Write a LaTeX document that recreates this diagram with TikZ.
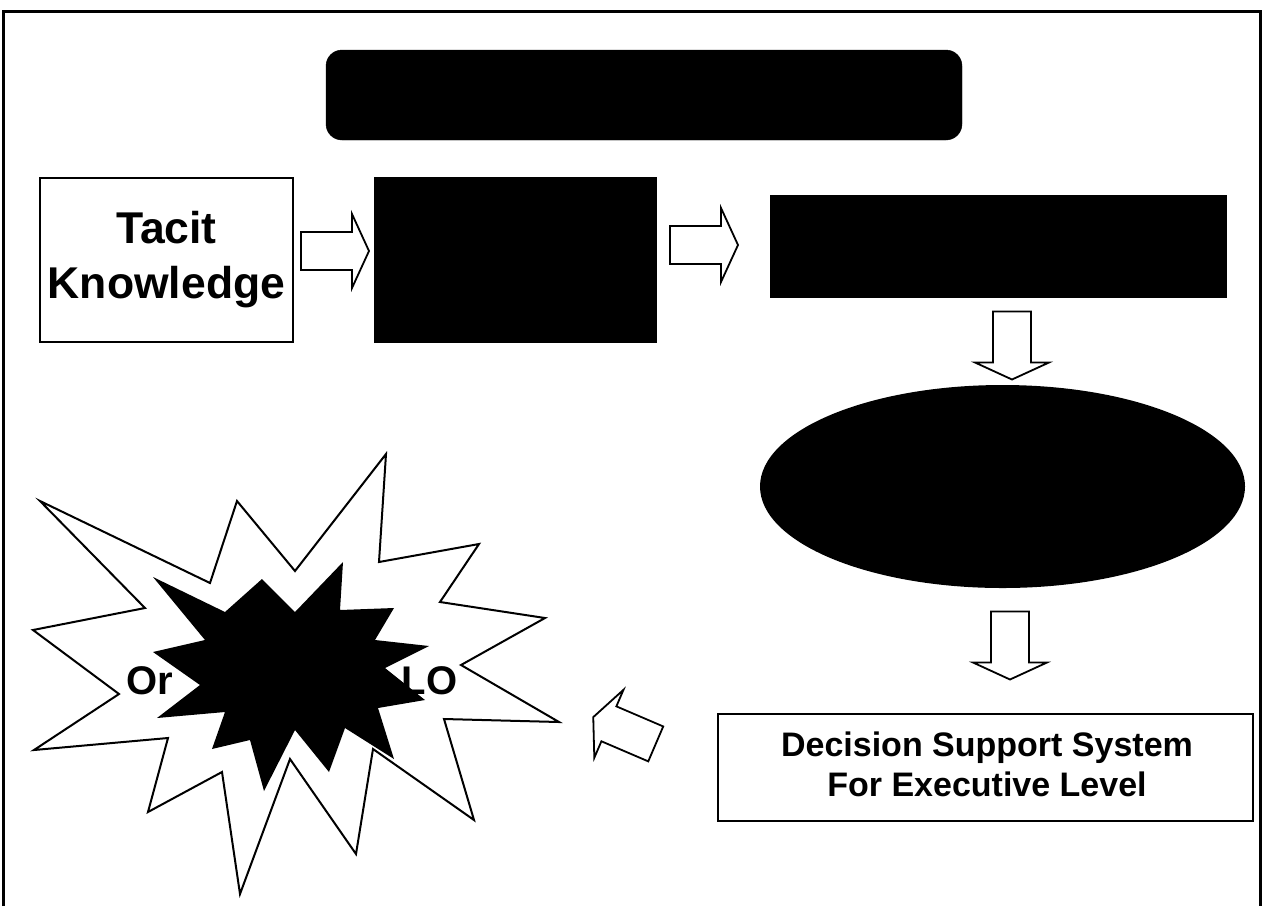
\documentclass[tikz,border=0pt]{standalone}
\usepackage{fontspec}
\setmainfont{Liberation Sans}
\usetikzlibrary{positioning, calc, shapes.geometric}

\tikzset{
  plainbox/.style={draw, line width=2pt, fill=white, inner sep=0pt, align=center},
  blackbox/.style={fill=black, draw=black, inner sep=0pt},
  arrowline/.style={draw, line width=1.8pt, fill=white, line join=miter},
  pics/blockarrow/.style={code={
    \draw[arrowline] (-34,-19) -- (17,-19) -- (17,-37) -- (34,0) -- (17,37) -- (17,19) -- (-34,19) -- cycle;
  }}
}

\begin{document}
\begin{tikzpicture}[x=1pt, y=-1pt]
\useasboundingbox (0,0) rectangle (1263,906);
\draw[line width=3pt] (3,906) -- (3,11) -- (1260,11) -- (1260,906);

% top row
\node[blackbox, rounded corners=16pt, minimum width=636pt, minimum height=90pt] (title) at (644,95) {};
\node[plainbox, minimum width=253pt, minimum height=164pt, font=\fontsize{44.5}{55}\selectfont\bfseries] (tacit) at (166.5,260) {Tacit\\Knowledge};
\node[blackbox, minimum width=282pt, minimum height=165pt] (blk1) at (515,259.5) {};
\node[blackbox, minimum width=456pt, minimum height=102pt] (blk2) at (998,246) {};

% right column
\node[ellipse, fill=black, minimum width=485pt, minimum height=203pt, inner sep=0pt] (oval) at (1002.5,486.5) {};
\node[plainbox, minimum width=535pt, minimum height=107pt] (dss) at (985.5,767.5) {};
\node[font=\fontsize{34}{40}\selectfont\bfseries, align=center] (dsstext) at (987,764) {Decision Support System\\For Executive Level};

% burst
\draw[line width=2pt, fill=white] (386,454) -- (379,562) -- (479,544) -- (440,602) -- (545,618) -- (461,665) -- (559,722) -- (444,719) -- (474,820) -- (373,749) -- (356,854) -- (290,759) -- (240,894) -- (222,772) -- (148,812) -- (168,738) -- (34,750) -- (119,694) -- (33,630) -- (145,608) -- (40,501) -- (210,583) -- (237,501) -- (295,571) -- cycle;
\fill[black] (262,579) -- (295,612) -- (343,562) -- (340,610) -- (394,608) -- (375,640) -- (429,646) -- (385,668) -- (425,700) -- (378,708) -- (394,759) -- (345,728) -- (329,772) -- (295,730) -- (264,791) -- (250,740) -- (212,749) -- (225,712) -- (157,718) -- (200,685) -- (153,652) -- (205,640) -- (153,577) -- (225,612) -- cycle;
\node[font=\fontsize{40}{40}\selectfont\bfseries] (orA) at (150,681) {Or};
\node[font=\fontsize{40}{40}\selectfont\bfseries] (orB) at (429.5,681) {LO};

% arrows
\pic at (335,251) {blockarrow};
\pic at (704,245) {blockarrow};
\pic[rotate=-90] at (1012,345.5) {blockarrow};
\pic[rotate=-90] at (1010,645.5) {blockarrow};
\pic[rotate=156.8] at (624.5,730.5) {blockarrow};
\end{tikzpicture}
\end{document}
